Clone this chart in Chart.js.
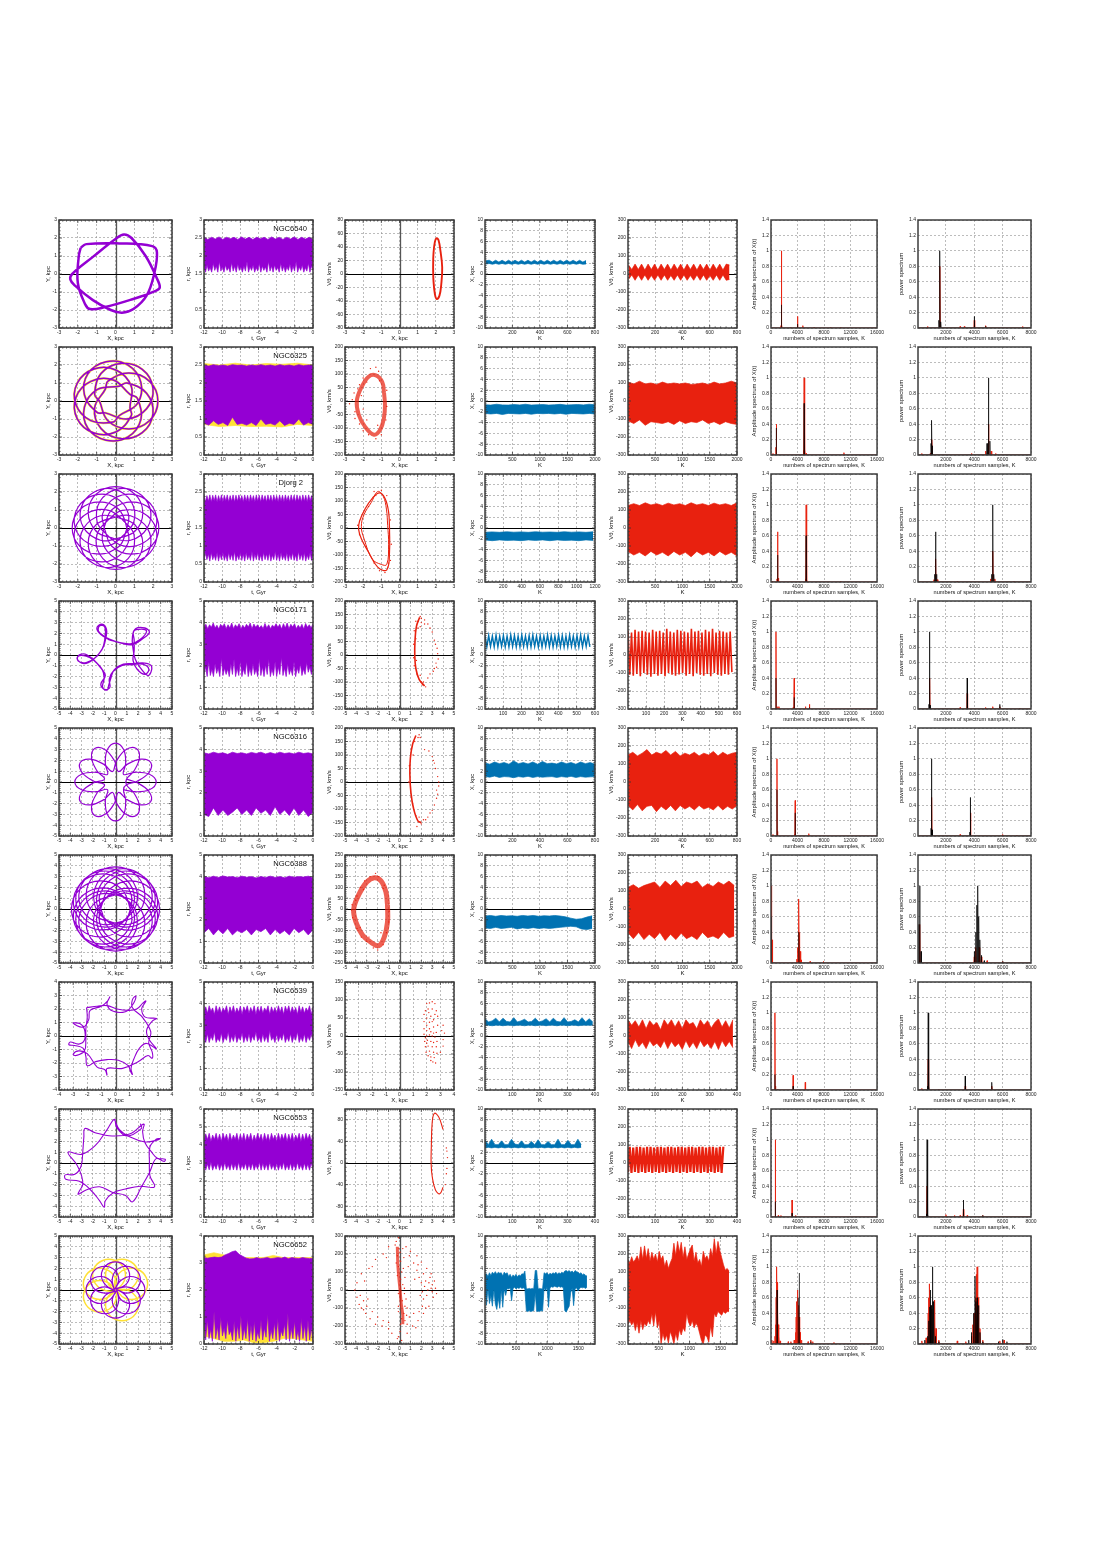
<!DOCTYPE html>
<html><head><meta charset="utf-8">
<style>html,body{margin:0;padding:0;background:#fff}#w{position:relative;width:1098px;height:1560px;overflow:hidden}canvas{position:absolute}</style>
<script src="https://cdn.jsdelivr.net/npm/chart.js@4"></script>
</head><body><div id="w"></div>
<script>
const names=['NGC6540','NGC6325','Djorg 2','NGC6171','NGC6316','NGC6388','NGC6539','NGC6553','NGC6652'];
const nameInset=[6,6,10,6,6,6,6,6,6];
const xyLim=[3,3,3,5,5,5,4,5,5];
const rMax=[3,3,3,5,5,5,5,6,4];
const rStep=[.5,.5,.5,1,1,1,1,1,1];
const vLim=[80,200,200,200,200,250,150,100,300];
const vStep=[20,50,50,50,50,50,50,40,100];
const k4Max=[800,2000,1200,600,800,2000,400,400,1770];
const k4Step=[200,500,200,100,200,500,100,100,500];
const k5Max=[800,2000,2000,600,800,2000,400,400,1770];
const k5Step=[200,500,500,100,200,500,100,100,500];
const k4End=[735,2000,1180,572,800,1950,392,350,1640];
const k5End=[745,2000,2000,572,800,1950,385,350,1640];
const yTitles=['Y, kpc','r, kpc','V\u03b8, km/s','X, kpc','V\u03b8, km/s','Amplitude spectrum of X(t)','power spectrum'];
const xTitles=['X, kpc','t, Gyr','X, kpc','K','K','numbers of spectrum samples, K','numbers of spectrum samples, K'];

// orbits X,Y pairs
const orbit1=[-1.85,1.45,-1.55,1.66,.2,1.7,1.95,1.55,2.2,1.2,2.05,0,1.65,-1.2,.95,-1.95,.35,-2.15,-.25,-2,-1.2,-1.45,-2.15,-.65,-2.4,-.3,-2.3,0,-1.2,.95,0,1.95,.45,2.2,.85,2,1.6,1,2.2,-.25,2.35,-.75,2.1,-.95,.9,-1.4,-.6,-1.85,-1.35,-1.95,-1.6,-1.7,-2,-.5,-1.95,1,-1.85,1.45];
const orbit2=[-.85,0,-.4,-1.1,.7,-1.55,1.8,-1.1,2.25,0,1.8,1.1,.7,1.55,-.4,1.1,-.54,.66,-1.11,-.38,-.77,-1.53,.27,-2.09,1.42,-1.76,1.99,-.71,1.65,.43,.61,1,.19,.82,-.98,.63,-1.65,-.34,-1.47,-1.51,-.5,-2.18,.67,-1.99,1.35,-1.02,1.16,.15,.77,.37,-.12,1.17,-1.31,1.09,-2.1,.2,-2.03,-.99,-1.14,-1.78,.05,-1.71,.84,-.81,.77,-.37,.84,.81,.05,1.71,-1.14,1.78,-2.03,.99,-2.1,-.2,-1.31,-1.09,-.12,-1.17,.19,-.82,1.16,-.15,1.35,1.02,.67,1.99,-.5,2.18,-1.47,1.51,-1.65,.34,-.98,-.63,-.54,-.66,.61,-1,1.65,-.43,1.99,.71,1.42,1.76,.27,2.09,-.77,1.53,-1.11,.38,-.85,0];
const orbit3=[-.6,0,-.18,-1.03,.85,-1.45,1.88,-1.03,2.3,0,1.88,1.03,.85,1.45,-.18,1.03,
-.52,.3,-.68,-.8,.01,-1.69,1.11,-1.83,1.99,-1.15,2.15,-.05,1.47,.83,.36,.98,
-.3,.52,-.98,-.36,-.83,-1.47,.05,-2.15,1.15,-1.99,1.83,-1.11,1.69,-.01,.8,.68,
0,.6,-1.03,.18,-1.45,-.85,-1.03,-1.88,0,-2.3,1.03,-1.88,1.45,-.85,1.03,.18,
.3,.52,-.8,.68,-1.69,-.01,-1.83,-1.11,-1.15,-1.99,-.05,-2.15,.83,-1.47,.98,-.36,
.52,.3,-.36,.98,-1.47,.83,-2.15,-.05,-1.99,-1.15,-1.11,-1.83,-.01,-1.69,.68,-.8,
.6,0,.18,1.03,-.85,1.45,-1.88,1.03,-2.3,0,-1.88,-1.03,-.85,-1.45,.18,-1.03,
.52,-.3,.68,.8,-.01,1.69,-1.11,1.83,-1.99,1.15,-2.15,.05,-1.47,-.83,-.36,-.98,
.3,-.52,.98,.36,.83,1.47,-.05,2.15,-1.15,1.99,-1.83,1.11,-1.69,.01,-.8,-.68,
0,-.6,1.03,-.18,1.45,.85,1.03,1.88,0,2.3,-1.03,1.88,-1.45,.85,-1.03,-.18,
-.3,-.52,.8,-.68,1.69,.01,1.83,1.11,1.15,1.99,.05,2.15,-.83,1.47,-.98,.36,
-.52,-.3,.36,-.98,1.47,-.83,2.15,.05,1.99,1.15,1.11,1.83,.01,1.69,-.68,.8,-.6,0];
const orbit4=[-.55,1.4,.4,1.15,1.4,1.05,2.2,1.45,2.75,2.2,2.3,2.4,1.6,2.2,1.65,1.4,1.65,.4,1.55,-.5,1.9,-1.3,2.6,-1.8,2.95,-1.3,2.4,-.85,1.5,-.9,.6,-.95,-.2,-1.5,-.55,-2.2,-.5,-3,-.9,-3.2,-1.3,-2.7,-.9,-1.9,-1.3,-1.2,-1.9,-.5,-2.6,-.1,-3.3,-.1,-3.3,-.55,-2.6,-.7,-1.8,-.25,-1.1,.7,-.85,1.6,-.8,2.4,-1.2,2.85,-1.65,2.5,-1.3,1.9,-.6,1.5,.5,1.1,1.5,.95,2.4,1.5,3,2.1,2.6,2.5,1.8,2.45,1.5,1.7,1.55,.6,1.75,-.4,2.2,-1.2,2.9,-1.9,3.2,-1.05,2.6,-.75,1.6,-.8,.7,-.85,-.1,-1.35,-.4,-2.1,-.6,-2.8,-.75,-3.25,-1.15,-3,-1,-2.1,-1.2,-1.3,-1.75,-.65,-2.5,0,-3.1,.05,-3.4,-.35,-2.8,-.8,-2,-.45,-1.2,.5,-.95,1.4,-.95,2.6,-1.4,2.7,-1.5,2.2,-.9,1.65,-.55,1.4];
const orbit5=[.71,-.71,1.7,-.9,3,-.72,3.6,0,3,.72,1.7,.9,.71,.71,.9,1.7,.72,3,0,3.6,-.72,3,-.9,1.7,-.71,.71,-1.7,.9,-3,.72,-3.6,0,-3,-.72,-1.7,-.9,-.71,-.71,-.9,-1.7,-.72,-3,0,-3.6,.72,-3,.9,-1.7,.71,-.71,
.97,-.26,1.92,.07,2.96,.88,3.12,1.8,2.24,2.12,1.02,1.63,.26,.97,-.07,1.92,-.88,2.96,-1.8,3.12,-2.12,2.24,-1.63,1.02,-.97,.26,-1.92,-.07,-2.96,-.88,-3.12,-1.8,-2.24,-2.12,-1.02,-1.63,-.26,-.97,.07,-1.92,.88,-2.96,1.8,-3.12,2.12,-2.24,1.63,-1.02,.97,-.26,
.97,.26,1.63,1.02,2.12,2.24,1.8,3.12,.88,2.96,.07,1.92,-.26,.97,-1.02,1.63,-2.24,2.12,-3.12,1.8,-2.96,.88,-1.92,.07,-.97,-.26,-1.63,-1.02,-2.12,-2.24,-1.8,-3.12,-.88,-2.96,-.07,-1.92,.26,-.97,1.02,-1.63,2.24,-2.12,3.12,-1.8,2.96,-.88,1.92,-.07,.97,.26];
const orbit6=[-1.3,0,-.54,-1.84,1.3,-2.6,3.14,-1.84,3.9,0,3.14,1.84,1.3,2.6,-.54,1.84,
-1.13,.65,-1.39,-1.32,-.17,-2.9,1.8,-3.16,3.38,-1.95,3.64,.02,2.43,1.6,.45,1.86,
-.92,.92,-1.68,-.92,-.92,-2.76,.92,-3.52,2.76,-2.76,3.52,-.92,2.76,.92,.92,1.68,
-.65,1.13,-1.86,-.45,-1.6,-2.43,-.02,-3.64,1.95,-3.38,3.16,-1.8,2.9,.17,1.32,1.39,
0,1.3,-1.84,.54,-2.6,-1.3,-1.84,-3.14,0,-3.9,1.84,-3.14,2.6,-1.3,1.84,.54,
.65,1.13,-1.32,1.39,-2.9,.17,-3.16,-1.8,-1.95,-3.38,.02,-3.64,1.6,-2.43,1.86,-.45,
.92,.92,-.92,1.68,-2.76,.92,-3.52,-.92,-2.76,-2.76,-.92,-3.52,.92,-2.76,1.68,-.92,
1.13,.65,-.45,1.86,-2.43,1.6,-3.64,.02,-3.38,-1.95,-1.8,-3.16,.17,-2.9,1.39,-1.32,
1.3,0,.54,1.84,-1.3,2.6,-3.14,1.84,-3.9,0,-3.14,-1.84,-1.3,-2.6,.54,-1.84,
1.13,-.65,1.39,1.32,.17,2.9,-1.8,3.16,-3.38,1.95,-3.64,-.02,-2.43,-1.6,-.45,-1.86,
.92,-.92,1.68,.92,.92,2.76,-.92,3.52,-2.76,2.76,-3.52,.92,-2.76,-.92,-.92,-1.68,
.65,-1.13,1.86,.45,1.6,2.43,.02,3.64,-1.95,3.38,-3.16,1.8,-2.9,-.17,-1.32,-1.39,
0,-1.3,1.84,-.54,2.6,1.3,1.84,3.14,0,3.9,-1.84,3.14,-2.6,1.3,-1.84,-.54,
-.65,-1.13,1.32,-1.39,2.9,-.17,3.16,1.8,1.95,3.38,-.02,3.64,-1.6,2.43,-1.86,.45,
-.92,-.92,.92,-1.68,2.76,-.92,3.52,.92,2.76,2.76,.92,3.52,-.92,2.76,-1.68,.92,
-1.13,-.65,.45,-1.86,2.43,-1.6,3.64,-.02,3.38,1.95,1.8,3.16,-.17,2.9,-1.39,1.32,-1.3,0];
const orbit7=[-2.05,2.1,-1.3,2.2,-.6,2.25,.1,2,.9,1.9,1.5,2,1.95,2.45,2.15,2.6,2.05,2.4,1.85,2,2.1,1.4,2.9,1.3,2.6,1.1,2.2,.4,2.4,-.3,2.9,-.95,2.2,-.55,1.7,-.9,1.3,-1.7,1.1,-2.4,1.2,-2.85,1.05,-2.6,.9,-2.2,.2,-1.8,-.6,-1.75,-1.4,-1.9,-2,-2.2,-2.1,-1.5,-2.3,-.9,-2.9,-.7,-3.3,-.65,-3.2,-.45,-2.6,-.6,-2.2,-.3,-2.2,.5,-2.5,.9,-3,.95,-2.3,.65,-1.9,1.2,-1.8,1.9,-1,2.2,-.55,2.6,-.4,2.9,-.6,2.35,-.2,1.85,.7,1.8,1.2,2.3,1.45,2.95,1.2,2.7,1.2,2.1,1.9,1.4,2.5,.3,2.35,-.5,2.6,-1.2,2.6,-1.65,2.3,-1.45,1.6,-1.9,.5,-2.4,-.6,-2.4,-.6,-2.9,-.75,-2.5,-1.3,-2.3,-2,-1.3,-2.6,-1.1,-3,-1.35,-2.8,-1.45,-2.2,-1.1,-2.1,-.3,-2.1,.5,-2,1.4,-2.05,2.1];
const orbit8=[-.1,4.05,.35,3.1,1.3,2.4,2.6,1.95,3.4,2.05,3.95,2.25,3.6,2.2,3.05,1.5,3,.2,3.05,-1.2,3.45,-2.2,2.2,-2.15,.9,-2.4,-.2,-2.75,-.9,-3.5,-1,-4.1,-1.4,-3.5,-2.2,-2.5,-3.2,-1.7,-4.4,-1.5,-4.45,-1.1,-3.6,-1.05,-3.05,-.3,-2.9,1,-2.8,2.4,-2.7,3.2,-1.8,2.8,-.3,2.5,1.3,2.7,2.5,3.6,2.4,2.9,2.6,1.9,3.2,1,3.7,.45,4.4,.35,4.3,.15,3.6,.4,3,-.9,2.3,-2.2,1.5,-3.6,.9,-3,-.2,-2.75,-1.4,-2.2,-2.6,-2.5,-3.3,-2.9,-3.2,-2.6,-2.9,-2,-3,-1.2,-3.4,-.2,-4.2,1,-3,.8,-1.8,1.6,-.8,3,-.1,4.05,.1,3.3,1,2.5,2.3,3.2,2.2,3.65];
const orbit9=[.1,0,.47,-.88,1.35,-1.25,2.23,-.88,2.6,0,2.23,.88,1.35,1.25,.47,.88,-.07,.07,.29,.95,-.07,1.84,-.95,2.2,-1.84,1.84,-2.2,.95,-1.84,.07,-.95,-.29,0,-.1,-.88,-.47,-1.25,-1.35,-.88,-2.23,0,-2.6,.88,-2.23,1.25,-1.35,.88,-.47,.07,.07,.95,-.29,1.84,.07,2.2,.95,1.84,1.84,.95,2.2,.07,1.84,-.29,.95,-.1,0,-.47,.88,-1.35,1.25,-2.23,.88,-2.6,0,-2.23,-.88,-1.35,-1.25,-.47,-.88,.07,-.07,-.29,-.95,.07,-1.84,.95,-2.2,1.84,-1.84,2.2,-.95,1.84,-.07,.95,.29,0,.1,.88,.47,1.25,1.35,.88,2.23,0,2.6,-.88,2.23,-1.25,1.35,-.88,.47,-.07,-.07,-.95,.29,-1.84,-.07,-2.2,-.95,-1.84,-1.84,-.95,-2.2,-.07,-1.84,.29,-.95,.1,0];
const orbit9y=[.05,.02,.83,-.77,1.95,-.77,2.73,.02,2.73,1.13,1.95,1.92,.83,1.91,.04,1.13,-.02,.05,.77,.83,.77,1.95,-.02,2.73,-1.13,2.73,-1.92,1.95,-1.91,.83,-1.13,.04,-.05,-.02,-.83,.77,-1.95,.77,-2.73,-.02,-2.73,-1.13,-1.95,-1.92,-.83,-1.91,-.04,-1.13,.02,-.05,-.77,-.83,-.77,-1.95,.02,-2.73,1.13,-2.73,1.92,-1.95,1.91,-.83,1.13,-.04,.02,.05,1.13,.04,1.91,.83,1.92,1.95,1.13,2.73,.02,2.73,-.77,1.95,-.77,.82,-.05,.02,-.04,1.13,-.83,1.91,-1.95,1.92,-2.73,1.13,-2.73,.02,-1.95,-.77,-.82,-.77,.05,-.02];
const orbits=[orbit1,orbit2,orbit3,orbit4,orbit5,orbit6,orbit7,orbit8,orbit9];
const orbitWidth=[2.5,1.5,1.2,1.3,1.2,1.2,1.1,1.1,1.2];

// r(t) upper / lower edges
const rHi=[
[2.52,2.46,2.52,2.47,2.53,2.46,2.52,2.48,2.52,2.46,2.53,2.47,2.52,2.46,2.52,2.48,2.52,2.46,2.53,2.47,2.52,2.46,2.52,2.47,2.53,2.46,2.52,2.47,2.52,2.46],
[2.5,2.47,2.51,2.48,2.5,2.47,2.51,2.49,2.5,2.47,2.5,2.48,2.51,2.48,2.5,2.47,2.51,2.48,2.5,2.47,2.51,2.48,2.5,2.49],
[2.42,2.22,2.4,2.24,2.42,2.22,2.41,2.25,2.42,2.22,2.4,2.24,2.42,2.22,2.41,2.25,2.42,2.22,2.4,2.24,2.42,2.22,2.41,2.24,2.42,2.25,2.4,2.22,2.42,2.24,2.41,2.22,2.42,2.25,2.4,2.22,2.42,2.24,2.41,2.22,2.42,2.25,2.4,2.22,2.42,2.24,2.41,2.22,2.42,2.25,2.4,2.22,2.42,2.24,2.41,2.22,2.42,2.25,2.4,2.22,2.42,2.24,2.41,2.22,2.42,2.25,2.4,2.22,2.42,2.24,2.41,2.22,2.42,2.25,2.4,2.22],
[3.8,3.92,3.72,3.9,3.78,3.98,3.75,3.88,3.7,3.92,3.8,3.95,3.72,3.9,3.75,3.98,3.72,3.9,3.78,3.95,3.7,3.88,3.75,3.92,3.8,3.98,3.72,3.93,3.78,3.9,3.75,3.86,3.72,3.96,3.75,3.9,3.72,3.88,3.8,3.95,3.78,3.92,3.7,3.95,3.75,3.98,3.72,3.92,3.8,3.95,3.72,3.88,3.75,3.92,3.7,3.96,3.78,3.9,3.75,3.95],
[3.85,3.8,3.88,3.82,3.85,3.78,3.88,3.82,3.85,3.8,3.87,3.82,3.88,3.8,3.86,3.8,3.88,3.82,3.85,3.8,3.88,3.82,3.85,3.8],
[4,3.95,4.02,3.96,4.03,3.98,4,3.95,4.02,3.97,4,3.94,4,3.96,4.02,3.96,4,3.95,4.02,3.97,4,3.98,4.02,3.95],
[3.6,3.85,3.55,3.9,3.65,3.8,3.5,3.9,3.6,3.85,3.55,3.8,3.65,3.9,3.5,3.85,3.6,3.9,3.55,3.8,3.6,3.88,3.5,3.85,3.65,3.9,3.55,3.82,3.6,3.9,3.5,3.85,3.6,3.88,3.55,3.8,3.65,3.9,3.5,3.85,3.6,3.82,3.55,3.9,3.6,3.85,3.5,3.88,3.65,3.9,3.55,3.85,3.6,3.82,3.5,3.9,3.6,3.85,3.55,3.8,3.65,3.9,3.5,3.85],
[4.2,4.62,4.3,4.65,4.2,4.55,4.3,4.65,4.25,4.6,4.2,4.65,4.3,4.6,4.2,4.65,4.25,4.55,4.3,4.65,4.2,4.6,4.25,4.65,4.2,4.6,4.3,4.65,4.2,4.55,4.25,4.65,4.3,4.6,4.2,4.65,4.25,4.6,4.2,4.65,4.3,4.55,4.2,4.65,4.25,4.6,4.3,4.65,4.2,4.6,4.25,4.65,4.2,4.55,4.3,4.65,4.2,4.6,4.25,4.65,4.3,4.6,4.2,4.65],
[3.2,3.18,3.2,3.22,3.2,3.22,3.3,3.35,3.42,3.45,3.32,3.25,3.18,3.15,3.16,3.2,3.16,3.18,3.2,3.16,3.18,3.2,3.18,3.22,3.16,3.2,3.18,3.16,3.2,3.18,3.16,3.18]];
const rLo=[
[1.72,1.55,1.75,1.58,1.68,1.55,1.8,1.6,1.72,1.55,1.85,1.58,1.7,1.55,1.75,1.6,1.68,1.55,1.82,1.58,1.72,1.55,1.78,1.6,1.7,1.55,1.72,1.58,1.85,1.55,1.7,1.6,1.75,1.55,1.68,1.58,1.8,1.55,1.72,1.6,1.7,1.55,1.85,1.58,1.72,1.55,1.75,1.6,1.68,1.55,1.8,1.58,1.72,1.55,1.7,1.6,1.78,1.55,1.72,1.58,1.85,1.55,1.7,1.6,1.75,1.55,1.68,1.58,1.8,1.55,1.72,1.6],
[.88,.83,.95,.85,.9,.82,1.05,.85,.88,.83,.9,.82,1,.85,.88,.83,.95,.82,.88,.85,1,.83,.9,.85],
[.6,.82,.62,.78,.58,.82,.62,.75,.6,.82,.58,.78,.62,.82,.6,.75,.58,.82,.62,.78,.6,.85,.58,.75,.62,.82,.6,.78,.58,.82,.62,.75,.6,.85,.58,.78,.62,.82,.6,.75,.58,.82,.62,.78,.6,.82,.58,.75,.62,.85,.6,.78,.58,.82,.62,.75,.6,.82,.58,.78,.62,.82,.6,.75,.58,.85,.62,.78,.6,.82,.58,.75,.62,.82,.6,.78],
[1.6,1.95,1.5,2.2,1.55,1.85,1.5,2.1,1.65,1.9,1.5,2.35,1.55,1.9,1.6,1.85,1.5,2.1,1.6,2.3,1.5,1.9,1.55,2.25,1.5,1.85,1.6,2.2,1.5,1.9,1.55,2.1,1.6,1.85,1.5,2.3,1.55,1.95,1.5,2.05,1.6,2.3,1.5,1.85,1.55,2.2,1.5,1.95,1.6,2.4,1.55,1.9,1.5,2.1,1.6,1.85,1.55,2.2,1.5,1.9,1.65,2.1,1.55,1.85,1.6,2.15,1.7,1.95,1.6,2],
[1,.9,1.3,.95,1.2,.95,1.1,1.3,1,1.2,.95,1.3,1.05,1.2,.95,1.35,1,1.2,.95,1.3,.95,1.2,.9,1.1],
[1.4,1.6,1.3,1.55,1.35,1.6,1.3,1.5,1.4,1.55,1.3,1.55,1.45,1.6,1.3,1.55,1.35,1.5,1.3,1.6,1.4,1.55,1.3,1.55],
[2.45,2.2,2.6,2.2,2.5,2.3,2.7,2.2,2.4,2.25,2.65,2.2,2.45,2.3,2.7,2.2,2.5,2.25,2.6,2.2,2.45,2.3,2.65,2.2,2.5,2.25,2.6,2.2,2.5,2.3,2.7,2.25,2.45,2.2,2.6,2.25,2.5,2.2,2.75,2.3,2.45,2.2,2.6,2.25,2.5,2.3,2.65,2.2,2.45,2.25,2.6,2.2,2.5,2.3,2.7,2.2,2.45,2.25,2.6,2.2,2.5,2.3,2.6,2.25],
[3,2.6,2.95,2.62,3.05,2.6,2.9,2.65,3,2.6,2.95,2.6,3.05,2.65,2.9,2.6,3,2.62,2.95,2.6,3.05,2.6,2.9,2.65,3,2.6,2.95,2.62,3,2.6,2.9,2.65,3.05,2.6,3,2.62,2.95,2.6,3.05,2.65,2.9,2.6,3,2.6,2.95,2.65,3.05,2.6,2.9,2.62,3,2.6,2.95,2.6,3.05,2.65,2.9,2.6,3,2.62,2.95,2.6,3,2.6],
[.8,.15,.9,.2,.55,.1,1.2,.2,.65,.15,1,.3,.6,.2,.9,.35,.5,.15,.85,.1,.7,.2,1.05,.15,.6,.2,.95,.1,.7,.15,.85,.1,.45,.2,.9,.15,.6,.25,1.1,.1,.55,.2,.8,.15,.95,.1,.5,.3,.75,.15,1.15,.1,.6,.2,.85,.15,.5,.1,.95,.2,.7,.1,.9,.15,.6,.1]];
const r2YellowHi=[2.54,2.5,2.55,2.5,2.54,2.52,2.55,2.5];
const r2YellowLo=[.85,.79,.82,.79,.8,.78,.85,.82];
const r9YellowHi=[3.3,3.38,3.3,3.2,3.2,3.2,3.2,3.28,3.2,3.2,3.2,3.2];
const r9YellowLo=[.3,.2,.1,.1,.15,.05,.05,.1,.2,.2,.15,.1];

// X(K) edges, blue
const xHi=[
[2.45,2.55,2.2,2.55,2.2,2.55,2.2,2.55,2.2,2.55,2.2,2.55,2.2,2.55,2.2,2.55,2.2,2.55,2.2,2.55,2.2,2.55,2.2,2.55,2.2,2.55,2.2,2.55,2.2,2.55,2.2,2.5],
[-.7,-.75,-.6,-.72,-.75,-.65,-.72,-.6,-.75,-.7,-.65,-.75,-.7,-.62,-.75,-.7,-.65,-.72,-.6,-.7],
[-.8,-.72,-.8,-.7,-.78,-.72,-.8,-.7,-.78,-.74,-.8,-.7,-.78,-.72,-.8,-.7],
[],
[3.5,3.3,3.7,3.4,3.6,3.3,3.9,3.4,3.6,3.35,3.7,3.3,3.8,3.4,3.5,3.35,3.7,3.4,3.6,3.3,3.7,3.4,3.6,3.3],
[-1.3,-1.2,-1.35,-1.2,-1.3,-1.25,-1.35,-1.2,-1.3,-1.2,-1.35,-1.25,-1.3,-1.2,-1.3,-1.45,-1.7,-1.9,-1.8,-1.5,-1.25],
[3.2,2.6,2.8,3.3,2.6,3.3,2.7,2.6,3.4,2.6,2.8,3.1,2.6,2.7,3.3,2.6,2.8,3.2,2.6,3.3,2.7,2.6,3.4,2.6,2.7,3,2.6,3.4,2.6,3.2,2.6],
[4.3,3.4,4.4,3.4,3.4,4.1,3.4,3.4,4.4,3.5,3.4,4.1,3.4,3.4,4,3.4,4.3,3.4,3.4,4,3.4,3.4,4.4,3.4,3.4,4.2,3.4,3.4,4.4,3.4],
[2.8,3,2.5,3.2,2.7,3.3,3,3.4,2.9,3.3,3.1,3.2,2.6,3.3,3,3.2,2.5,2.9,2.3,2.8,2.5,2.9,2.4,2.8,2.6,3,2.9,3.5,.3,.2,.3,.2,.3,.25,3.6,3.6,.2,.3,.2,.3,3.2,3,3.2,2.8,3.1,2.9,3.2,3,3.3,2.9,3.2,3,3.3,3.1,3.5,3.6,3.4,3.6,3.3,3.5,3.2,3.6,3.4,3.3,3,3.2,2.8,3,2.7,2.6]];
const xLo=[
[1.85,1.95,1.8,1.95,1.8,1.95,1.8,1.95,1.8,1.95,1.8,1.95,1.8,1.95,1.8,1.95,1.8,1.95,1.8,1.95,1.8,1.95,1.8,1.95,1.8,1.95,1.8,1.95,1.8,1.95,1.8,1.85],
[-2.3,-2.4,-2.3,-2.5,-2.3,-2.35,-2.4,-2.3,-2.45,-2.3,-2.35,-2.3,-2.4,-2.3,-2.45,-2.3,-2.35,-2.4,-2.3,-2.4],
[-2.2,-2.35,-2.2,-2.3,-2.25,-2.35,-2.2,-2.3,-2.2,-2.35,-2.2,-2.3,-2.25,-2.35,-2.2,-2.3],
[],
[1,.9,1.1,.85,1,.95,.8,1,.9,1.05,.85,1,.9,.95,1,.85,1,.9,1.05,.85,1,.9,.95,1],
[-3.5,-3.6,-3.4,-3.6,-3.5,-3.4,-3.7,-3.5,-3.6,-3.45,-3.6,-3.5,-3.6,-3.5,-3.4,-3.3,-3.2,-3.3,-3.7,-3.8,-3.6],
[2,2,1.9,2,2,1.9,2,2,1.9,2,2,1.9,2,2,1.9,2,2,1.9,2,2,1.9,2,2,1.9,2,2,1.9,2,2,2,2],
[2.8,2.9,2.8,2.9,2.8,2.9,2.8,2.9,2.8,2.9,2.8,2.9,2.8,2.9,2.8,2.9,2.8,2.9,2.8,2.9,2.8,2.9,2.8,2.9,2.8,2.9,2.8,2.9,2.8,2.9],
[.2,-2.8,.3,-2.5,-1,-3,.1,-2.6,-3.6,-1.5,-3.4,.1,-3.2,.2,-1,.3,.2,.4,-2,.3,.5,.2,.4,.3,.5,.3,.4,.2,-3.9,-4,-3.8,-4,-3.9,-3.8,-.5,-4,-3.9,-4,-3.8,-3.9,.4,-.2,.5,-3.2,.4,.6,.5,.7,.6,.5,.7,.5,.6,.4,-3.8,-4.1,-3.5,-3,-.5,.3,-2.9,.2,.4,-.2,.3,.5,.4,.5,.3,.5]];
const x4Zig=[3.5,1.5,3.6,1.6,3.5,1.5,3.7,1.5,3.5,1.6,3.6,1.5,3.5,1.5,3.7,1.6,3.6,1.5,3.5,1.5,3.7,1.6,3.5,1.5,3.6,1.5,3.7,1.6,3.5,1.5,3.6,1.5,3.5,1.6,3.7,1.5,3.6,1.5,3.5,1.6,3.7,1.5,3.6,1.5,3.5,1.5,3.7,1.6,3.5,1.5,3.6,1.5,3.7,1.5,3.5,1.6,3.6,1.5];

// V(K) edges, red
const vHi=[
[50,25,55,25,55,22,55,25,55,22,55,25,55,22,55,25,55,22,55,25,55,22,55,25,55,22,55,25,55,22,55,50],
[105,95,110,95,100,92,105,95,100,95,100,92,95,100,92,105,95,100,110,100],
[125,135,125,140,128,135,125,138,128,135,125,140,128,135,125,138,128,135,125,140],
[],
[150,165,145,160,180,150,165,155,175,150,170,145,160,150,165,145,160,150,170,145,165,150,160,165],
[120,135,115,130,140,150,120,155,130,160,125,150,140,155,120,140,125,150,135,155,130],
[90,60,85,50,90,40,85,60,75,35,90,60,90,50,85,40,90,65,75,40,90,60,85,45,75,95,50,85,45,90],
[],
[170,150,185,155,170,190,160,240,170,245,175,230,160,210,170,200,155,215,170,190,130,165,120,150,175,260,190,270,210,265,180,240,170,200,230,250,160,210,150,170,130,215,175,190,160,230,185,285,200,270,220,180,140,110,120,105]];
const vLo=[
[-30,-5,-35,-5,-35,-5,-35,-8,-35,-5,-35,-5,-35,-8,-35,-5,-35,-5,-35,-8,-35,-5,-35,-5,-35,-8,-35,-5,-35,-5,-35,-30],
[-110,-125,-105,-135,-115,-120,-125,-115,-130,-110,-125,-115,-120,-105,-125,-115,-130,-115,-125,-130],
[-130,-150,-135,-155,-130,-150,-135,-155,-130,-150,-135,-160,-130,-150,-135,-155,-130,-150,-135,-155],
[],
[-130,-155,-125,-160,-135,-130,-165,-135,-155,-130,-160,-130,-150,-135,-155,-130,-150,-140,-155,-130,-155,-135,-150,-130],
[-130,-165,-130,-170,-140,-165,-130,-175,-140,-170,-135,-165,-150,-170,-130,-160,-150,-165,-130,-160,-150],
[-30,-70,-20,-60,-35,-70,-25,-55,-40,-65,-25,-70,-30,-60,-40,-75,-25,-65,-35,-70,-25,-60,-40,-70,-30,-75,-25,-60,-30,-65],
[],
[-190,-170,-195,-175,-225,-180,-240,-170,-220,-185,-200,-170,-190,-130,-200,-120,-210,-170,-300,-240,-280,-250,-295,-230,-260,-300,-240,-280,-220,-250,-210,-230,-130,-180,-200,-170,-210,-185,-200,-240,-280,-300,-250,-260,-290,-200,-260,-130,-150,-120,-130,-140,-120,-130,-120,-120]];
const v4Zig=[135,-110,125,-115,140,-105,130,-118,135,-100,130,-110,125,-120,140,-105,130,-115,135,-105,125,-118,145,-100,130,-110,125,-115,140,-108,135,-100,130,-115,125,-105,145,-118,130,-100,135,-110,125,-115,140,-105,130,-118,145,-100,125,-110,135,-115,130,-105,125,-110,130,-95];
const v8Zig=[-50,90,-55,85,-50,90,-55,90,-50,85,-55,90,-50,90,-55,85,-50,90,-55,90,-50,85,-55,90,-50,90,-55,85,-50,90,-55,90,-50,85,-55,90,-50,90,-55,85,-50,90,-55,90,-50,85,-55,90,-50,90,-55,85,-50,90,-55,90];

// phase-plane loops and dots, X,V pairs
const ring1=[1.85,10,1.87,30,1.95,48,2.05,53,2.15,50,2.25,35,2.35,10,2.3,-15,2.2,-32,2.05,-37,1.95,-30,1.87,-10,1.85,10];
const ring2=[-.85,30,-.95,70,-1.3,95,-1.7,90,-2.1,50,-2.35,0,-2.25,-50,-1.9,-95,-1.4,-125,-1.05,-105,-.85,-60,-.8,-15,-.85,30];
const ring3=[-.55,0,-.6,60,-.8,110,-1.1,130,-1.5,110,-1.9,70,-2.2,25,-2.25,-5,-2.1,-40,-1.7,-90,-1.2,-145,-.7,-155,-.55,-90,-.55,0];
const ring3b=[-.65,10,-.72,70,-.9,118,-1.2,135,-1.55,95,-1.95,50,-2.1,5,-1.95,-40,-1.5,-115,-1,-135,-.7,-135,-.6,-60,-.65,10];
const ring4=[1.85,140,1.55,105,1.42,50,1.4,0,1.5,-50,1.8,-90,2.3,-115];
const ring5=[1.5,172,1.2,140,1,90,.95,30,1.05,-40,1.3,-100,1.7,-145,2,-150];
const ring6=[-1.1,20,-1.25,80,-1.7,130,-2.3,145,-3,125,-3.7,70,-4.2,0,-4,-60,-3.4,-120,-2.6,-155,-1.9,-170,-1.4,-130,-1.1,-60,-1.1,20];
const ring8=[4,62,3.6,85,3.2,92,3,75,2.92,30,2.9,0,3,-25,3.3,-50,3.7,-57,4,-45];
const ring9=[-.2,240,-.15,140,-.05,60,.05,0,.15,-70,.3,-140,.3,-190];
const dots2=[-2.6,5,-2.75,-10,-2.5,30,-2.45,-40,-2.2,60,-2,85,-1.6,120,-1.3,125,-1.15,110,-.7,40,-.7,-20,-.75,-70,-1,-125,-1.3,-140,-1.7,-125,-2,-110,-2.2,-85,-2.45,-65,-2.1,20,-2,-30,-1.8,-70,-1.8,70,-1.2,-90,-1.1,75,-2.3,45];
const dots3=[-.5,-120,-.45,-60,-.7,120,-1.4,135,-1,140,-.8,-165,-1.1,-158,-2.3,10,-2.2,-25,-1.7,80,-1.4,-130,-.6,-130,-.65,-145,-.5,30,-1.3,120];
const dots4=[1.9,143,2,135,1.7,125,1.5,125,1.35,90,1.3,40,1.3,-10,1.35,-40,1.6,-70,1.9,-75,2,-100,2.2,-100,2.4,-118,2.1,-110,1.7,100,1.5,60,1.55,-20,2.3,130,2.6,115,2.8,100,3,85,3.2,55,3.3,40,3.45,25,3.5,5,3.55,-15,3.35,-30,3.4,-45,3.2,-50,3.1,-60,2.8,-70,2.3,115,2,120,1.9,105,2.6,-85];
const dots5=[1.7,165,1.9,165,1.8,175,1.4,150,1.25,100,.9,60,.85,0,1.2,-80,1.5,-125,1.6,-165,2,-155,2.2,-140,1.8,-130,2.3,120,2.7,115,3,95,3.2,70,3.3,50,3.5,20,3.6,0,3.6,-15,3.5,-45,3.4,-60,3.2,-85,3,-105,2.8,-115,2.6,-130,2.4,-140,3.1,80,3.4,-30];
const dots6=[-4.4,-5,-4.35,20,-4.3,-40,-3.9,60,-3.6,100,-3.2,130,-2.7,150,-2.2,165,-1.9,150,-1.4,110,-.95,-10,-1,-60,-1.2,-110,-1.5,-165,-2,-190,-2.4,-180,-3,-150,-3.5,-130,-3.9,-90,-4,40,-3.3,90,-3.6,-85,-2.8,-130,-1.7,-110,-1.5,95];
const dots7=[2,90,2.2,92,2.4,95,2.6,90,1.9,70,2.1,75,2.4,75,2.7,70,2.8,55,1.8,60,2,50,2.3,55,2.5,45,1.8,40,2,30,2.2,38,2.5,25,2.8,30,3.2,30,1.8,20,2,15,2.3,12,2.5,8,2.7,10,3.1,15,3.3,8,1.8,5,2,0,2.2,3,2.4,0,2.6,-3,3.2,-10,1.85,-15,2.05,-12,2.3,-15,2.5,-18,2.75,-15,1.9,-30,2.1,-28,2.4,-30,2.7,-30,3.2,-28,1.95,-45,2.2,-42,2.5,-45,2.75,-48,3,-45,2.1,-55,2.3,-58,2.55,-60,2.45,-72,2.65,-75,2.3,-68,2,-20,2.2,20,2.4,40,2.6,60,1.9,-5,2.15,65];
const dots8=[4.3,28,4.35,22,4.4,10,4.35,-10,4.3,-20,4.2,-40];
const dots9=[-.1,290,-.3,270,-.05,230,.05,210,-.2,190,.1,160,-.1,130,.2,100,.1,60,.3,30,-.1,-20,.25,-60,.5,-90,.4,-130,.5,-170,.1,-190,.05,-230,-.1,-260,.2,-280,-.2,-270,-1,240,-1.5,200,-2.2,170,-2.8,120,-3.5,90,-3.9,40,-4.1,0,-3.9,-40,-3.7,-80,-3.3,-110,-3.1,-130,-2.7,-160,-2.2,-190,-1.6,-200,-1,-215,-.7,-240,.7,-240,1.2,-200,1.7,-170,2.2,-130,2.7,-90,3.1,-40,3.3,10,3.2,50,2.9,90,2.5,120,2,155,1.6,190,1,215,.6,240,2.2,90,2,40,2.4,50,2.7,40,1.9,-30,2.2,-50,2.5,-30,1.4,60,1.6,110,2.1,-90,2.6,0,2.9,10,3,-10,-3.3,-60,-3,-90,-3.6,-30,-2.5,-120,-1.5,-170,1.3,-130,.9,-150,.8,130,1.3,150,-.4,250,.3,230,.4,180,-.3,150,.35,120,.5,70,-.2,80,.45,-20,.6,-50,.7,-100,.65,-140,.2,-160,-.1,-120,.7,-190,-.1,-90,.45,10,3.4,-20,3,30,2.8,70,2.3,20,2.1,-10,1.8,70,1.8,-120,2.4,-100,1.5,-210,-1.2,180,-2.5,130,-3.2,50,-2.9,-50,-3.5,-100,-2,-150,-1,-180,.9,190,1.7,140];

// spectra, K,height pairs
const ampRed=[
[1570,1,1500,.03,1640,.04,4000,.15,4800,.03,3000,.01,6500,.01,9000,.01,10500,.01],
[800,.4,740,.1,860,.12,5000,1,4880,.06,5120,.07,5300,.02,11000,.03,300,.02],
[1000,.65,5300,1,5200,.04,5420,.03,1100,.05,900,.04,200,.01,10500,.01],
[750,1,1000,.03,1200,.03,3500,.4,3350,.02,5200,.03,5800,.06],
[900,1,1000,.06,3650,.46,3550,.02,5700,.03,300,.02],
[80,1,160,.3,240,.08,3900,.05,4050,.2,4150,.5,4220,.83,4300,.4,4400,.15,4550,.04,5900,.02,7900,.02],
[590,1,700,.05,3340,.19,5170,.1,1000,.01],
[650,1,1100,.02,1500,.02,3180,.22,3700,.02],
[150,.05,400,.04,600,.1,700,.25,780,.6,840,.85,880,1,920,.8,980,.7,1040,.45,1100,.25,1200,.1,1400,.04,2600,.03,3000,.03,3500,.05,3700,.15,3800,.35,3900,.55,4000,.7,4060,.65,4150,.5,4250,.35,4400,.15,4600,.05,5600,.03,6000,.05,6300,.03,9500,.02]];
const ampBlack=[
[1570,.3,4000,.05],[800,.35,5000,.67],[1000,.35,5300,.6],[750,.4,3500,.15,5800,.02],[900,.6,3650,.3],[80,.6,4220,.4,4150,.3],[590,.2,3340,.05],[650,.2,3180,.05],
[880,.7,940,.7,1000,.3,4100,.6,4250,.92,4300,.5,6000,.03]];
const powRed=[
[1570,.8,4000,.1,700,.02,3000,.02,3300,.02,4800,.03,7400,.02],
[1000,.2,900,.02,300,.02,4800,.05,5200,.05,5000,.4,5500,.02,3800,.02],
[1270,.3,1150,.03,1400,.03,5300,.4,5150,.04,5450,.04,2800,.01,6800,.01],
[850,.4,3500,.2,3000,.02,4800,.02,5300,.03,5800,.03,7200,.01],
[990,.5,3730,.3,3000,.02,6000,.02,7000,.01],
[150,.5,4100,.2,4350,.2,4000,.08,4500,.08,4900,.03,6000,.02],
[750,.4,3360,.05,300,.02,5230,.05,1500,.01],
[670,.4,3230,.1,2000,.03,2600,.02,3000,.02,3500,.02,4600,.02],
[300,.04,600,.08,750,.4,800,.6,850,.78,900,.5,1000,.45,1200,.57,1300,.2,1500,.05,2800,.04,3400,.03,3800,.1,3900,.25,4000,.4,4100,.6,4150,.9,4200,1,4280,.6,4400,.2,4600,.05,5800,.04,6100,.05]];
const powBlack=[
[1570,1,1500,.1,1640,.08,4000,.15,4800,.02],
[1000,.45,950,.15,1050,.12,5000,1,4900,.15,5100,.18],
[1270,.65,1200,.1,1340,.1,5300,1,5220,.1,5380,.1],
[850,1,800,.06,900,.05,3500,.4,5800,.06],
[990,1,950,.1,1030,.08,3730,.5,3680,.05],
[150,1,80,.5,250,.15,4000,.15,4100,.4,4180,.75,4250,1,4320,.6,4400,.3,4500,.1,4700,.03,6000,.02],
[750,1,700,.05,800,.04,3360,.18,5230,.1],
[670,1,620,.04,730,.03,3230,.22,4600,.02],
[500,.05,700,.1,780,.3,860,.48,900,.7,950,.5,1040,1,1100,.55,1150,.35,1250,.1,1500,.03,3600,.05,3800,.15,3950,.4,4050,.88,4120,.55,4200,.6,4300,.5,4400,.15,4600,.03,5700,.03,6000,.06,6300,.03]];

const plotX=[59,204,345,485,628,771,918];
const plotW=[113,109,109,110,109,112,113];
const plotY=[219,346,473,600,727,854,981,1108,1235];
const plotH=109;
const marginL=[14,19,19,16,20,20,20];
const marginR=[8,8,8,8,8,3,8];
const minorDiv=[5,4,5,5,5,0,0];
const PURPLE='#9400d3',YELLOW='#ffe135',RED='#e8210f',BLUE='#0072b2',BLACK='#000';
const FONT='"Liberation Sans"';

const pairs=a=>{const o=[];for(let i=0;i+1<a.length;i+=2)o.push({x:a[i],y:a[i+1]});return o;};
const along=(v,a,b)=>v.map((y,i)=>({x:a+(b-a)*i/(v.length-1),y}));
const line=(data,color,w,tension=0)=>({data,borderColor:color,borderWidth:w,tension,pointRadius:0,fill:false});
const dots=(data,color)=>({data,showLine:false,pointRadius:.7,pointBorderWidth:0,pointBackgroundColor:color,borderColor:color,fill:false});
const band=(hi,lo,a,b,color)=>[
  {data:along(hi,a,b),borderColor:color,borderWidth:.7,pointRadius:0,backgroundColor:color,fill:'+1'},
  {data:along(lo,a,b),borderColor:color,borderWidth:.7,pointRadius:0,fill:false}];
const spikes=(list,hw,xmax)=>{
  const p=pairs(list).sort((m,n)=>m.x-n.x),o=[{x:0,y:0}];
  p.forEach(q=>{o.push({x:q.x-hw,y:0},{x:q.x,y:q.y},{x:q.x+hw,y:0});});
  o.push({x:xmax,y:0});return o;};

const framePlugin={id:'frame',
  beforeDatasetsDraw(c){
    const {ctx,chartArea:a,scales:{x,y}}=c;ctx.save();
    if(x.min<0&&x.max>0){ctx.strokeStyle='#555';ctx.lineWidth=1.3;const p=Math.round(x.getPixelForValue(0))+.5;ctx.beginPath();ctx.moveTo(p,a.top);ctx.lineTo(p,a.bottom);ctx.stroke();}
    if(y.min<0&&y.max>0){ctx.strokeStyle='#000';ctx.lineWidth=1.2;const p=Math.round(y.getPixelForValue(0))+.5;ctx.beginPath();ctx.moveTo(a.left,p);ctx.lineTo(a.right,p);ctx.stroke();}
    ctx.restore();},
  afterDatasetsDraw(c,_,o){
    const {ctx,chartArea:a,scales:{x,y}}=c;ctx.save();
    ctx.strokeStyle='#333';ctx.lineWidth=.8;ctx.beginPath();
    const mark=(s,step,sub)=>{
      if(!sub)return;
      const d=step/sub,first=Math.ceil(s.min/d-1e-6),last=Math.floor(s.max/d+1e-6);
      for(let k=first;k<=last;k++){
        const maj=k%sub===0,l=maj?3:1.6,p=s.getPixelForValue(k*d);
        if(s===x){ctx.moveTo(p,a.bottom);ctx.lineTo(p,a.bottom-l);ctx.moveTo(p,a.top);ctx.lineTo(p,a.top+l);}
        else{ctx.moveTo(a.left,p);ctx.lineTo(a.left+l,p);ctx.moveTo(a.right,p);ctx.lineTo(a.right-l,p);}
      }};
    mark(x,o.xStep,o.sub);mark(y,o.yStep,o.sub);ctx.stroke();
    ctx.strokeStyle='#3c3c3c';ctx.lineWidth=1.5;ctx.strokeRect(a.left,a.top,a.right-a.left,a.bottom-a.top);
    if(o.name){ctx.fillStyle='#111';ctx.font='7.6px '+FONT;ctx.textAlign='right';ctx.textBaseline='middle';ctx.fillText(o.name,a.right-o.inset,a.top+9);}
    ctx.restore();}};
Chart.register(framePlugin);

const axis=(min,max,step,title,titleSize,fit)=>({type:'linear',min,max,
  afterBuildTicks(s){const t=[];const f=Math.ceil(min/step-1e-6),l=Math.floor(max/step+1e-6);for(let k=f;k<=l;k++)t.push({value:+(k*step).toFixed(3)});s.ticks=t;},
  afterFit:fit,
  grid:{color:'#8f8f8f',lineWidth:.6,drawTicks:false,drawOnChartArea:true},
  border:{display:false,dash:[2,2]},
  ticks:{autoSkip:false,maxRotation:0,minRotation:0,padding:2,color:'#222',font:{family:FONT,size:5},callback:v=>String(+(+v).toFixed(2))},
  title:{display:true,text:title,padding:0,color:'#111',font:{family:FONT,size:titleSize,lineHeight:1.2}}});

function panel(r,c,datasets,xr,yr,name,inset){
  const L=marginL[c],R=marginR[c],T=4,B=14,W=plotW[c]+L+R,H=plotH+T+B;
  const cv=document.createElement('canvas');
  cv.width=W;cv.height=H;cv.style.cssText=`left:${plotX[c]-L}px;top:${plotY[r]-T}px;width:${W}px;height:${H}px`;
  document.getElementById('w').appendChild(cv);
  datasets.forEach((d,i)=>{d.order=datasets.length-i;});
  new Chart(cv,{type:'line',data:{datasets},options:{
    responsive:false,animation:false,devicePixelRatio:1,events:[],
    layout:{autoPadding:false,padding:{top:T,right:R,left:0,bottom:0}},
    plugins:{legend:{display:false},tooltip:{enabled:false},title:{display:false},
      frame:{sub:minorDiv[c],xStep:xr[2],yStep:yr[2],name:name||'',inset:inset||0}},
    scales:{
      x:axis(xr[0],xr[1],xr[2],xTitles[c],c>4?5.6:6,s=>{s.height=B;}),
      y:axis(yr[0],yr[1],yr[2],yTitles[c],6,s=>{s.width=L;})
    }}});
}

const rings=[[ring1,1.9,null],[ring2,4,dots2],[ring3,1.2,dots3],[ring4,1.6,dots4],[ring5,1.6,dots5],[ring6,5,dots6],[null,0,dots7],[ring8,1.1,dots8],[ring9,3,dots9]];

for(let r=0;r<9;r++){
  const lim=xyLim[r];
  const ds1=[];
  if(r===1)ds1.push(line(pairs(orbit2),YELLOW,2.3,.4));
  if(r===8)ds1.push(line(pairs(orbit9y),YELLOW,1.5,.4));
  ds1.push(line(pairs(orbits[r]),PURPLE,orbitWidth[r],.4));
  panel(r,0,ds1,[-lim,lim,1],[-lim,lim,1]);
  const ds2=[];
  if(r===1)ds2.push(...band(r2YellowHi,r2YellowLo,-12,0,YELLOW));
  if(r===8)ds2.push(...band(r9YellowHi,r9YellowLo,-12,0,YELLOW));
  ds2.push(...band(rHi[r],rLo[r],-12,0,PURPLE));
  panel(r,1,ds2,[-12,0,2],[0,rMax[r],rStep[r]],names[r],nameInset[r]);
  const ds3=[];const g=rings[r];
  if(g[0])ds3.push(line(pairs(g[0]),r===1||r===5||r===8?'rgba(232,33,15,.72)':RED,g[1],.4));
  if(r===2)ds3.push(line(pairs(ring3b),RED,1,.4));
  if(g[2])ds3.push(dots(pairs(g[2]),RED));
  panel(r,2,ds3,[-lim,lim,1],[-vLim[r],vLim[r],vStep[r]]);
  const k4=r===3?line(along(x4Zig,1,k4End[r]),BLUE,1.4):null;
  panel(r,3,k4?[k4]:band(xHi[r],xLo[r],r===0?8:1,k4End[r],BLUE),[1,k4Max[r],k4Step[r]],[-10,10,2]);
  const k5=r===3?line(along(v4Zig,1,k5End[r]),RED,1.6):r===7?line(along(v8Zig,1,k5End[r]),RED,2.2):null;
  panel(r,4,k5?[k5]:band(vHi[r],vLo[r],r===0?5:1,k5End[r],RED),[1,k5Max[r],k5Step[r]],[-300,300,100]);
  panel(r,5,[line(spikes(ampRed[r],45,16000),RED,.9),line(spikes(ampBlack[r],25,16000),BLACK,.5)],[0,16000,4000],[0,1.4,.2]);
  panel(r,6,[line(spikes(powRed[r],30,8000),RED,.9),line(spikes(powBlack[r],20,8000),BLACK,.7)],[30,8000,2000],[0,1.4,.2]);
}
</script></body></html>
